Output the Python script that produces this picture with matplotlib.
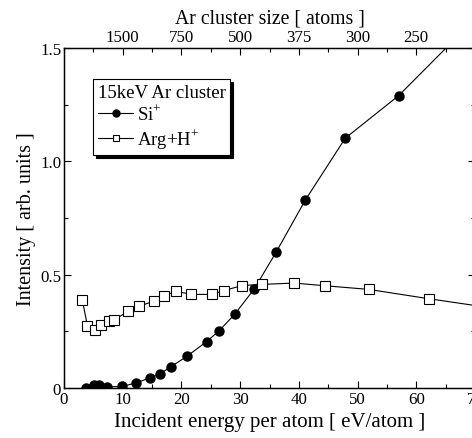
import matplotlib
matplotlib.use("Agg")
import matplotlib.pyplot as plt
from matplotlib.ticker import MultipleLocator, FixedLocator, FixedFormatter
from matplotlib.lines import Line2D

plt.rcParams['font.family'] = ['Liberation Serif', 'DejaVu Serif']
plt.rcParams['mathtext.fontset'] = 'custom'
plt.rcParams['mathtext.rm'] = 'Liberation Serif'

# Si+ (filled circles)
si_energy = [3.7, 5.1, 5.9, 7.4, 9.9, 12.2, 14.7, 16.4, 18.2, 20.9, 24.3, 26.4, 29.1,
             32.4, 36.1, 41.1, 47.9, 57.0, 72.0]
si_intensity = [0.0, 0.015, 0.015, 0.005, 0.007, 0.022, 0.045, 0.063, 0.094, 0.139, 0.205,
                0.252, 0.326, 0.437, 0.598, 0.829, 1.102, 1.29, 1.68]

# Arg+H+ (open squares)
ar_energy = [3.1, 4.0, 5.3, 6.3, 7.7, 8.5, 10.9, 12.7, 15.3, 17.0, 19.0, 21.7, 25.2, 27.3,
             30.3, 33.7, 39.2, 44.5, 51.9, 62.1, 75.0]
ar_intensity = [0.390, 0.273, 0.254, 0.276, 0.295, 0.300, 0.338, 0.360, 0.383, 0.404, 0.427,
                0.413, 0.413, 0.430, 0.452, 0.457, 0.463, 0.451, 0.435, 0.394, 0.345]

top_tick_energy = [10, 20, 30, 40, 50, 60]
top_tick_labels = ['1500', '750', '500', '375', '300', '250']
y_tick_values = [0, 0.5, 1.0, 1.5]
y_tick_labels = ['0', '0.5', '1.0', '1.5']

fig = plt.figure(figsize=(4.72, 4.39), dpi=100)
ax = fig.add_axes([64/472, 50/439, 411/472, 340/439])

ax.plot(si_energy, si_intensity, '-', color='black', lw=0.8, marker='o', ms=6.5,
        mfc='black', mec='black', clip_on=True)
ax.plot(ar_energy, ar_intensity, '-', color='black', lw=0.8, marker='s', ms=6.5,
        mfc='white', mec='black', mew=0.8, clip_on=True)

ax.set_xlim(0, 70)
ax.set_ylim(0, 1.5)
ax.xaxis.set_major_locator(MultipleLocator(10))
ax.xaxis.set_minor_locator(MultipleLocator(5))
ax.yaxis.set_major_locator(FixedLocator(y_tick_values))
ax.yaxis.set_major_formatter(FixedFormatter(y_tick_labels))
ax.yaxis.set_minor_locator(MultipleLocator(0.25))
ax.tick_params(which='both', direction='in', top=False, right=True, labelsize=12.2,
               width=0.8, pad=2)
ax.tick_params(which='major', length=5)
ax.tick_params(which='minor', length=3)
for s in ax.spines.values():
    s.set_linewidth(1.0)

ax.set_xlabel('Incident energy per atom [ eV/atom ]', fontsize=15, labelpad=4)
ax.set_ylabel('Intensity [ arb. units ]', fontsize=14.5, labelpad=3)

ax2 = ax.twiny()
ax2.set_xlim(ax.get_xlim())
ax2.xaxis.set_major_locator(FixedLocator(top_tick_energy))
ax2.xaxis.set_major_formatter(FixedFormatter(top_tick_labels))
ax2.xaxis.set_minor_locator(MultipleLocator(5))
ax2.tick_params(which='both', direction='in', labelsize=12.2, width=0.8, pad=2)
ax2.tick_params(which='major', length=5)
ax2.tick_params(which='minor', length=3)
ax2.set_xlabel('Ar cluster size [ atoms ]', fontsize=14.2, labelpad=4.5)

handles = [
    Line2D([], [], color='black', lw=0.8, marker='o', ms=5, mfc='black', mec='black'),
    Line2D([], [], color='black', lw=0.8, marker='s', ms=4.5, mfc='white', mec='black', mew=0.8),
]
leg = ax.legend(handles, ['Si$^{+}$', 'Arg+H$^{+}$'], title='15keV Ar cluster',
                loc='upper left', bbox_to_anchor=(29/411, 1 - 31/340),
                frameon=True, fancybox=False, shadow={'color': 'black', 'alpha': 1},
                fontsize=13.5, title_fontsize=13.5, handlelength=1.9, handletextpad=0.2,
                borderpad=0.25, labelspacing=0.15, borderaxespad=0)
leg._legend_box.align = 'left'
leg.get_frame().set_edgecolor('black')
leg.get_frame().set_linewidth(0.8)

fig.savefig('out.png', dpi=100)
